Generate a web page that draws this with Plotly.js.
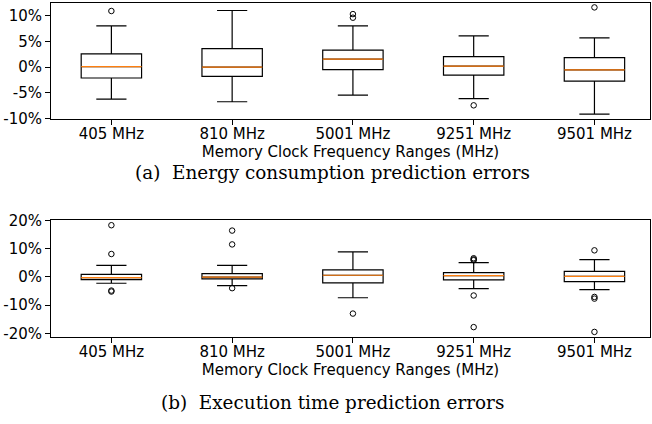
<!DOCTYPE html>
<html>
<head>
<meta charset="utf-8">
<script src="https://cdn.plot.ly/plotly-3.0.1.min.js"></script>
<style>html,body{margin:0;padding:0;background:#fff}#chart{width:652px;height:424px}</style>
</head>
<body>
<div id="chart"></div>
<script>
// Categories and tick labels
const categories = ['405 MHz', '810 MHz', '5001 MHz', '9251 MHz', '9501 MHz'];
const catPos = [1, 2, 3, 4, 5];

// (a) Energy consumption prediction errors (%)
const energyLower  = [-6.2, -6.7, -5.4, -6.1, -9.1];
const energyQ1     = [-2.1, -1.8, -0.46, -1.55, -2.7];
const energyMedian = [0.12, 0.0, 1.55, 0.19, -0.52];
const energyQ3     = [2.6, 3.6, 3.3, 2.05, 1.86];
const energyUpper  = [8.0, 11.0, 8.0, 6.07, 5.68];
const energyOutX   = [1, 3, 3, 4, 5];
const energyOutY   = [10.9, 10.3, 9.6, -7.4, 11.6];

// (b) Execution time prediction errors (%)
const timeLower  = [-2.26, -3.1, -7.4, -4.14, -4.5];
const timeQ1     = [-0.96, -0.7, -2.12, -1.06, -1.66];
const timeMedian = [-0.25, -0.1, 0.57, 0.46, 0.2];
const timeQ3     = [0.9, 1.17, 2.48, 1.52, 1.98];
const timeUpper  = [4.1, 4.1, 8.85, 5.06, 6.1];
const timeOutX   = [1, 1, 1, 1, 2, 2, 2, 3, 4, 4, 4, 4, 4, 5, 5, 5, 5];
const timeOutY   = [18.3, 8.1, -4.85, -5.2, 16.4, 11.5, -4.0, -13.0, 6.6, 6.2, 5.9, -6.6, -17.8, 9.4, -7.1, -7.7, -19.5];

// Y tick labels
const energyTicks = [-10, -5, 0, 5, 10];
const energyTickText = ['-10%', '-5%', '0%', '5%', '10%'];
const timeTicks = [-20, -10, 0, 10, 20];
const timeTickText = ['-20%', '-10%', '0%', '10%', '20%'];

const xTitle = 'Memory Clock Frequency Ranges (MHz)';
const captionA = '(a)  Energy consumption prediction errors';
const captionB = '(b)  Execution time prediction errors';

function boxTrace(lower, q1, med, q3, upper, xa, ya) {
  return {
    type: 'box', x: catPos, q1: q1, median: med, q3: q3,
    lowerfence: lower, upperfence: upper,
    xaxis: xa, yaxis: ya, width: 0.5, whiskerwidth: 0.5,
    line: {color: '#000', width: 1.2}, fillcolor: 'rgba(0,0,0,0)',
    boxpoints: false, showlegend: false, hoverinfo: 'skip'
  };
}
function medTrace(med, xa, ya) {
  return {
    type: 'box', x: catPos, q1: med, median: med, q3: med,
    lowerfence: med, upperfence: med,
    xaxis: xa, yaxis: ya, width: 0.5, whiskerwidth: 0,
    line: {color: '#ff7f0e', width: 1.2}, fillcolor: 'rgba(0,0,0,0)',
    boxpoints: false, showlegend: false, hoverinfo: 'skip'
  };
}
function outTrace(xs, ys, xa, ya) {
  return {
    type: 'scatter', mode: 'markers', x: xs, y: ys, xaxis: xa, yaxis: ya,
    marker: {symbol: 'circle-open', size: 5.5, color: '#000', line: {width: 1, color: '#000'}},
    showlegend: false, hoverinfo: 'skip'
  };
}

const data = [
  boxTrace(energyLower, energyQ1, energyMedian, energyQ3, energyUpper, 'x', 'y'),
  medTrace(energyMedian, 'x', 'y'),
  outTrace(energyOutX, energyOutY, 'x', 'y'),
  boxTrace(timeLower, timeQ1, timeMedian, timeQ3, timeUpper, 'x2', 'y2'),
  medTrace(timeMedian, 'x2', 'y2'),
  outTrace(timeOutX, timeOutY, 'x2', 'y2')
];

const tickFont = {family: 'DejaVu Sans', size: 15, color: '#000'};
const W = 652, H = 424;
const xdom = [51 / W, 650 / W];

function xAxis(anchor) {
  return {
    domain: xdom, anchor: anchor, range: [0.5, 5.46],
    tickvals: catPos, ticktext: categories, tickfont: tickFont,
    ticks: 'outside', ticklen: 5, tickwidth: 1, tickcolor: '#000',
    ticklabelstandoff: -4,
    showline: true, linecolor: '#000', linewidth: 1, mirror: true,
    showgrid: false, zeroline: false,
    title: {text: xTitle, font: tickFont, standoff: 1}
  };
}
function yAxis(anchor, dom, range, tv, tt) {
  return {
    domain: dom, anchor: anchor, range: range,
    tickvals: tv, ticktext: tt, tickfont: tickFont,
    ticks: 'outside', ticklen: 5, tickwidth: 1, tickcolor: '#000',
    showline: true, linecolor: '#000', linewidth: 1, mirror: true,
    showgrid: false, zeroline: false
  };
}

const layout = {
  width: W, height: H,
  margin: {l: 0, r: 0, t: 0, b: 0},
  paper_bgcolor: '#fff', plot_bgcolor: '#fff',
  boxmode: 'overlay',
  xaxis: xAxis('y'),
  yaxis: yAxis('x', [1 - 119 / H, 1 - 2.5 / H], [-10.05, 12.55], energyTicks, energyTickText),
  xaxis2: xAxis('y2'),
  yaxis2: yAxis('x2', [1 - 337 / H, 1 - 220 / H], [-21.3, 20.15], timeTicks, timeTickText),
  annotations: [
    {text: captionA, xref: 'paper', yref: 'paper', x: 332.5 / W, y: 1 - 172 / H,
     xanchor: 'center', yanchor: 'middle', showarrow: false,
     font: {family: 'DejaVu Serif', size: 18.4, color: '#000'}},
    {text: captionB, xref: 'paper', yref: 'paper', x: 332.5 / W, y: 1 - 402 / H,
     xanchor: 'center', yanchor: 'middle', showarrow: false,
     font: {family: 'DejaVu Serif', size: 18.4, color: '#000'}}
  ]
};

Plotly.newPlot('chart', data, layout, {staticPlot: true, displayModeBar: false});
</script>
</body>
</html>
